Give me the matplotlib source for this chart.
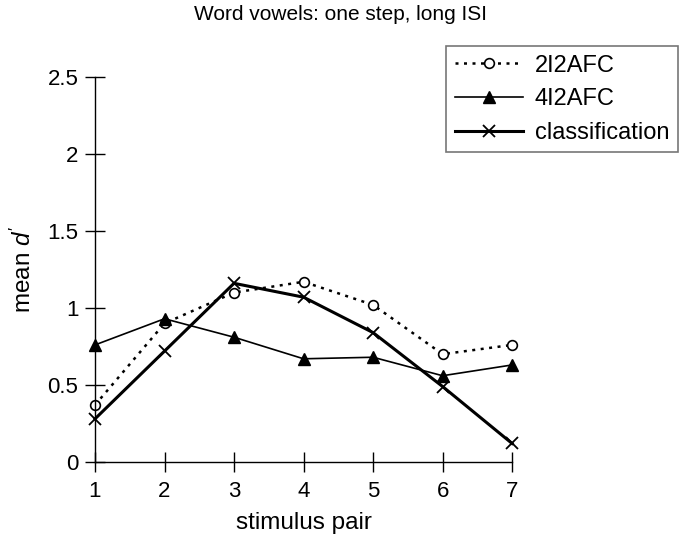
import matplotlib
matplotlib.use("Agg")
import matplotlib.pyplot as plt

pairs = [1, 2, 3, 4, 5, 6, 7]
afc2 = [0.37, 0.90, 1.10, 1.17, 1.02, 0.70, 0.76]
afc4 = [0.76, 0.93, 0.81, 0.67, 0.68, 0.56, 0.63]
classification = [0.28, 0.72, 1.16, 1.07, 0.84, 0.49, 0.12]
yticks = [0, 0.5, 1, 1.5, 2, 2.5]
yticklabels = ["0", "0.5", "1", "1.5", "2", "2.5"]

plt.rcParams['font.family'] = ['Liberation Sans', 'DejaVu Sans']
plt.rcParams['mathtext.fontset'] = 'custom'
plt.rcParams['mathtext.rm'] = 'Liberation Sans'
plt.rcParams['mathtext.it'] = 'Liberation Sans:italic'

fig = plt.figure(figsize=(6.81, 5.38), dpi=100)
ax = fig.add_axes([0.1395, 0.1413, 0.6125, 0.7157])

l1, = ax.plot(pairs, afc2, linestyle=(0, (1.2, 2.2)), color='black', lw=1.8,
              marker='o', mfc='white', mec='black', ms=7, mew=1.2, clip_on=False)
l2, = ax.plot(pairs, afc4, linestyle='-', color='black', lw=1.2,
              marker='^', mfc='black', mec='black', ms=8, clip_on=False)
l3, = ax.plot(pairs, classification, linestyle='-', color='black', lw=2.2,
              marker='x', mec='black', ms=9, mew=1.3, clip_on=False)

ax.set_xlim(1, 7)
ax.set_ylim(0, 2.5)
ax.set_xticks(pairs)
ax.set_yticks(yticks)
ax.set_yticklabels(yticklabels)
ax.tick_params(direction='inout', length=14, width=1, labelsize=16, pad=5)
ax.tick_params(axis='x', pad=7)
for s in ['top', 'right']:
    ax.spines[s].set_visible(False)
ax.spines['left'].set_linewidth(1)
ax.spines['bottom'].set_linewidth(1)

ax.set_xlabel('stimulus pair', fontsize=17.5, labelpad=7)
ax.set_ylabel(r"mean $d'$", fontsize=17.5, labelpad=8)
fig.text(0.5, 0.973, 'Word vowels: one step, long ISI', ha='center', va='center', fontsize=15)

leg = fig.legend([l1, l2, l3], ['2I2AFC', '4I2AFC', 'classification'],
                 loc='upper right', bbox_to_anchor=(0.995, 0.914),
                 fontsize=17, frameon=True, fancybox=False, edgecolor='#555555',
                 handlelength=2.9, handletextpad=0.5, borderpad=0.35, labelspacing=0.5,
                 borderaxespad=0)
leg.get_frame().set_linewidth(1.2)

fig.savefig('out.png', dpi=100)
